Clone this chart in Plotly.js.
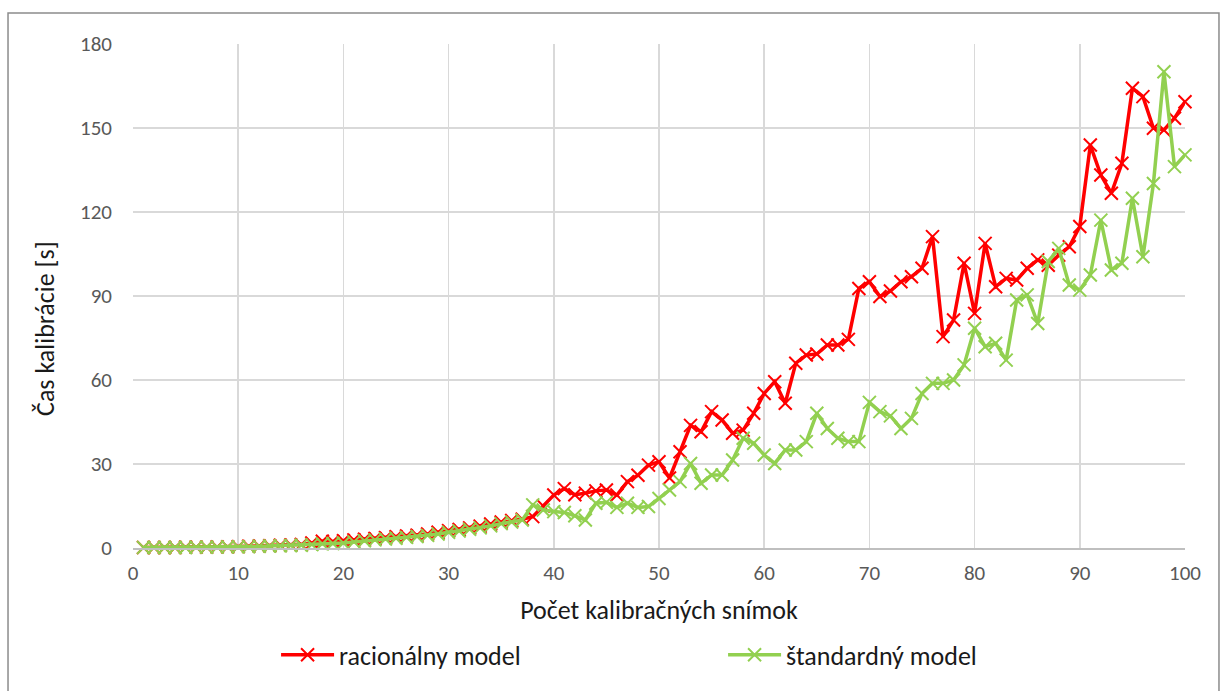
<!DOCTYPE html>
<html>
<head>
<meta charset="utf-8">
<script src="https://cdn.plot.ly/plotly-3.0.1.min.js"></script>
<style>html,body{margin:0;padding:0;background:#fff;}#chart{width:1224px;height:691px;}</style>
</head>
<body>
<div id="chart"></div>
<script>
const snimky = [1,2,3,4,5,6,7,8,9,10,11,12,13,14,15,16,17,18,19,20,21,22,23,24,25,26,27,28,29,30,31,32,33,34,35,36,37,38,39,40,41,42,43,44,45,46,47,48,49,50,51,52,53,54,55,56,57,58,59,60,61,62,63,64,65,66,67,68,69,70,71,72,73,74,75,76,77,78,79,80,81,82,83,84,85,86,87,88,89,90,91,92,93,94,95,96,97,98,99,100];

const racionalny = [0.2,0.2,0.2,0.2,0.3,0.3,0.3,0.4,0.4,0.5,
  0.6,0.7,0.8,1.0,1.1,1.3,1.8,2.4,2.3,2.6,
  2.9,3.1,3.4,3.7,4.0,4.3,4.6,5.0,5.6,6.2,
  6.6,7.2,7.8,8.6,9.3,9.8,10.3,11.2,15.0,18.9,
  21.2,19.0,19.6,20.4,20.7,18.9,23.7,26.0,29.6,30.8,
  25.0,34.4,43.8,41.5,48.7,45.7,41.0,42.1,48.1,55.2,
  59.4,51.7,66.0,68.9,69.3,72.5,72.5,74.5,92.7,95.1,
  89.8,91.8,95.1,96.9,99.9,111.2,75.5,81.4,101.7,83.8,
  108.8,93.3,96.3,95.7,99.9,102.9,101.0,104.6,107.6,114.8,
  143.9,133.2,126.7,137.4,164.2,161.2,149.9,149.3,153.5,159.4];

const standardny = [0.2,0.2,0.2,0.2,0.2,0.3,0.3,0.3,0.4,0.4,
  0.5,0.6,0.7,0.8,0.9,1.0,1.2,1.5,1.6,1.8,
  2.2,2.6,2.9,3.2,3.5,3.8,4.1,4.5,5.0,5.6,
  6.1,6.7,7.2,7.9,8.7,9.3,10.0,15.4,13.6,13.0,
  12.7,11.5,10.0,16.0,16.3,14.5,16.0,14.5,14.8,17.7,
  20.7,23.7,30.2,23.1,26.1,26.1,31.4,39.2,37.4,33.2,
  30.2,35.0,35.0,38.0,48.1,42.7,39.2,38.0,38.0,52.0,
  48.7,47.2,42.7,46.3,55.2,58.8,58.8,60.0,65.4,78.5,
  71.9,73.1,67.1,88.6,90.4,80.2,102.3,107.0,93.9,92.1,
  97.5,117.1,99.3,101.7,124.9,104.0,130.2,170.1,136.2,140.4];

const seriesNames = ['racionálny model', 'štandardný model'];
const xTitle = 'Počet kalibračných snímok';
const yTitle = 'Čas kalibrácie [s]';

const FONT = 'Carlito, Calibri, Lato, sans-serif';

function trace(y, name, color) {
  return {
    x: snimky, y: y, name: name, type: 'scatter', mode: 'lines+markers',
    line: {color: color, width: 3.5},
    marker: {symbol: 'x-thin', size: 13, color: color, line: {color: color, width: 2}},
    cliponaxis: false
  };
}

const data = [
  trace(racionalny, seriesNames[0], '#ff0000'),
  trace(standardny, seriesNames[1], '#92d050')
];

const layout = {
  width: 1224, height: 691,
  margin: {l: 133, r: 39, t: 44, b: 143, autoexpand: false},
  paper_bgcolor: '#ffffff', plot_bgcolor: '#ffffff',
  font: {family: FONT, color: '#595959', size: 21},
  showlegend: true,
  xaxis: {
    range: [0, 100], dtick: 10, tick0: 0,
    showgrid: true, gridcolor: '#d9d9d9', gridwidth: 1.5,
    showline: true, linecolor: '#bfbfbf', linewidth: 1.5,
    zeroline: false, ticks: '', ticklabelstandoff: 5,
    tickfont: {family: FONT, size: 21, color: '#595959'},
    title: {text: xTitle, font: {family: FONT, size: 26, color: '#1a1a1a'}, standoff: 16},
    fixedrange: true
  },
  yaxis: {
    range: [0, 180], dtick: 30, tick0: 0,
    showgrid: true, gridcolor: '#d9d9d9', gridwidth: 1.5,
    showline: false, zeroline: false, ticks: '', ticklabelstandoff: 20,
    tickfont: {family: FONT, size: 21, color: '#595959'},
    fixedrange: true
  },
  annotations: [{
    text: yTitle, xref: 'paper', yref: 'paper', x: -0.0837, y: 0.4365,
    xanchor: 'center', yanchor: 'middle', textangle: -90, showarrow: false,
    font: {family: FONT, size: 26, color: '#1a1a1a'}
  }],
  legend: {
    orientation: 'h', x: 0.136, xanchor: 'left', y: -0.212, yanchor: 'middle',
    entrywidth: 379, entrywidthmode: 'pixels',
    font: {family: FONT, size: 26, color: '#1a1a1a'},
    itemwidth: 53, bgcolor: 'rgba(0,0,0,0)'
  },
  shapes: [{
    type: 'rect', xref: 'paper', yref: 'paper',
    x0: -0.1188, x1: 1.0323, y0: -0.32, y1: 1.0615,
    line: {color: '#8c8c8c', width: 1.5}, fillcolor: 'rgba(0,0,0,0)', layer: 'below'
  }]
};

Plotly.newPlot('chart', data, layout, {displayModeBar: false, staticPlot: true});
</script>
</body>
</html>
